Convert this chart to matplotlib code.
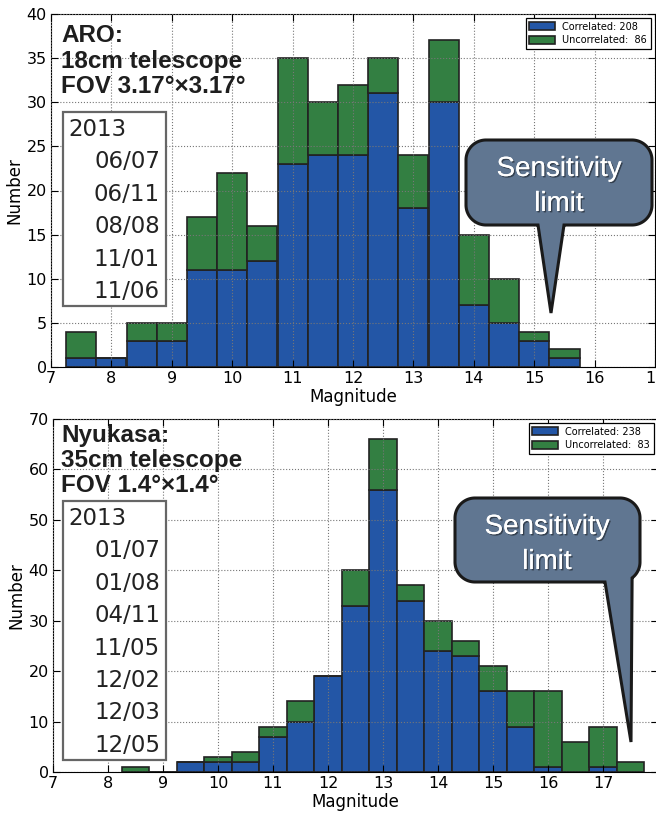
import numpy as np
import matplotlib
matplotlib.use("Agg")
import matplotlib.pyplot as plt
import matplotlib.transforms as mtransforms
from matplotlib.patches import Polygon, Rectangle
import matplotlib.patheffects as pe

# ---- data (bins are 0.5 mag wide) ----
aro_left = [7.25, 7.75, 8.25, 8.75, 9.25, 9.75, 10.25, 10.75, 11.25, 11.75,
            12.25, 12.75, 13.25, 13.75, 14.25, 14.75, 15.25]
aro_corr = [1, 1, 3, 3, 11, 11, 12, 23, 24, 24, 31, 18, 30, 7, 5, 3, 1]
aro_total = [4, 1, 5, 5, 17, 22, 16, 35, 30, 32, 35, 24, 37, 15, 10, 4, 2]
aro_dates = ["06/07", "06/11", "08/08", "11/01", "11/06"]

nyu_left = [8.25, 8.75, 9.25, 9.75, 10.25, 10.75, 11.25, 11.75, 12.25, 12.75,
            13.25, 13.75, 14.25, 14.75, 15.25, 15.75, 16.25, 16.75, 17.25]
nyu_corr = [0, 0, 2, 2, 2, 7, 10, 19, 33, 56, 34, 24, 23, 16, 9, 1, 0, 1, 0]
nyu_total = [1, 0, 2, 3, 4, 9, 14, 19, 40, 66, 37, 30, 26, 21, 16, 16, 6, 9, 2]
nyu_dates = ["01/07", "01/08", "04/11", "11/05", "12/02", "12/03", "12/05"]

blue = "#2356a6"
green = "#337f42"
bubble = "#607691"

W, H = 656, 814
fig = plt.figure(figsize=(W / 100, H / 100), dpi=100, facecolor="w")
# pixel coordinates, y going down like the picture
px = mtransforms.Affine2D().scale(1.0 / W, -1.0 / H).translate(0, 1) + fig.transFigure


def callout(x0, y0, x1, y1, r, base_l, base_r, tip, text_x, base1, base2):
    # rounded box, sampled densely, with a pointer cut into the bottom side
    pts = []
    def arc(cx, cy, a0, a1):
        for a in np.linspace(a0, a1, 30):
            pts.append((cx + r * np.cos(a), cy + r * np.sin(a)))
    for x in np.arange(x0 + r, x1 - r, 1.0):
        pts.append((x, y0))
    arc(x1 - r, y0 + r, -np.pi / 2, 0)
    for y in np.arange(y0 + r, y1 - r, 1.0):
        pts.append((x1, y))
    arc(x1 - r, y1 - r, 0, np.pi / 2)
    for x in np.arange(x1 - r, x0 + r, -1.0):
        pts.append((x, y1))
    arc(x0 + r, y1 - r, np.pi / 2, np.pi)
    for y in np.arange(y1 - r, y0 + r, -1.0):
        pts.append((x0, y))
    arc(x0 + r, y0 + r, np.pi, 1.5 * np.pi)
    out = []
    done = False
    for (x, y) in pts:
        if y >= y1 - r and base_l <= x <= base_r:
            if not done:
                out.append(tip)
                done = True
            continue
        out.append((x, y))
    fig.patches.append(Polygon(out, closed=True, transform=px, facecolor=bubble,
                               edgecolor="#1a1a1a", lw=2.2, zorder=20))
    sh = [pe.withSimplePatchShadow(offset=(1, -1), shadow_rgbFace="k", alpha=0.45), pe.Normal()]
    for s, b in (("Sensitivity", base1), ("limit", base2)):
        fig.text(text_x, b, s, transform=px, ha="center", va="baseline", color="w",
                 fontsize=20, family="Liberation Sans", zorder=21, path_effects=sh)


def panel(rect, left, corr, total, xlim, ylim, ystep, leg, title, title_base,
          dates, box, date_base):
    ax = fig.add_axes(rect)
    unc = [t - c for t, c in zip(total, corr)]
    ax.bar(left, corr, width=0.5, align="edge", color=blue, edgecolor="#222222",
           lw=1.2, label="Correlated: %d" % leg[0])
    ax.bar(left, unc, width=0.5, align="edge", bottom=corr, color=green,
           edgecolor="#222222", lw=1.2, label="Uncorrelated:  %d" % leg[1])
    ax.set_xlim(*xlim)
    ax.set_ylim(*ylim)
    ax.set_xticks(range(7, 18))
    ax.set_yticks(range(0, ylim[1] + 1, ystep))
    ax.set_axisbelow(False)
    ax.grid(True, ls=":", color="#777777", lw=0.8)
    ax.tick_params(direction="in", top=True, right=True, length=5, labelsize=11.5,
                   pad=3)
    ax.set_xlabel("Magnitude", fontsize=12, labelpad=1)
    ax.set_ylabel("Number", fontsize=12, labelpad=2)
    lg = ax.legend(loc="upper right", fontsize=7, fancybox=False, framealpha=1,
                   borderaxespad=0.4, handlelength=2.6, handleheight=0.9,
                   labelspacing=0.35)
    lg.get_frame().set_edgecolor("k")
    lg.get_frame().set_linewidth(0.9)

    for s, b in zip(title, title_base):
        fig.text(61, b, s, transform=px, fontsize=17.5, fontweight="bold",
                 family="Liberation Sans", color="#1e1e1e", va="baseline", zorder=15)
    fig.patches.append(Rectangle((box[0], box[1]), box[2] - box[0], box[3] - box[1],
                                 transform=px, facecolor="w", edgecolor="#666666",
                                 lw=1.6, zorder=14))
    fig.text(68, date_base, "2013", transform=px, fontsize=16.5, color="#222222",
             va="baseline", zorder=15)
    for i, d in enumerate(dates):
        fig.text(160, date_base + 32.4 * (i + 1), d, transform=px, fontsize=16.5,
                 color="#222222", va="baseline", ha="right", zorder=15)
    return ax


panel([51 / W, (H - 367) / H, 604 / W, 353 / H], aro_left, aro_corr, aro_total,
      (7, 17), (0, 40), 5, (208, 86),
      ["ARO:", "18cm telescope", "FOV 3.17°×3.17°"], [42, 68, 93],
      aro_dates, (63, 112, 166, 306), 136)
panel([53 / W, (H - 772) / H, 605 / W, 353 / H], nyu_left, nyu_corr, nyu_total,
      (7, 18), (0, 70), 10, (238, 83),
      ["Nyukasa:", "35cm telescope", "FOV 1.4°×1.4°"], [442, 467, 492],
      nyu_dates, (63, 501, 166, 760), 525)

callout(466, 140, 652, 225, 20, 539, 563, (551, 313), 559, 176, 211)
callout(455, 498, 640, 582, 20, 606, 632, (631, 742), 547, 534, 569)

plt.savefig("out.png", dpi=100)
